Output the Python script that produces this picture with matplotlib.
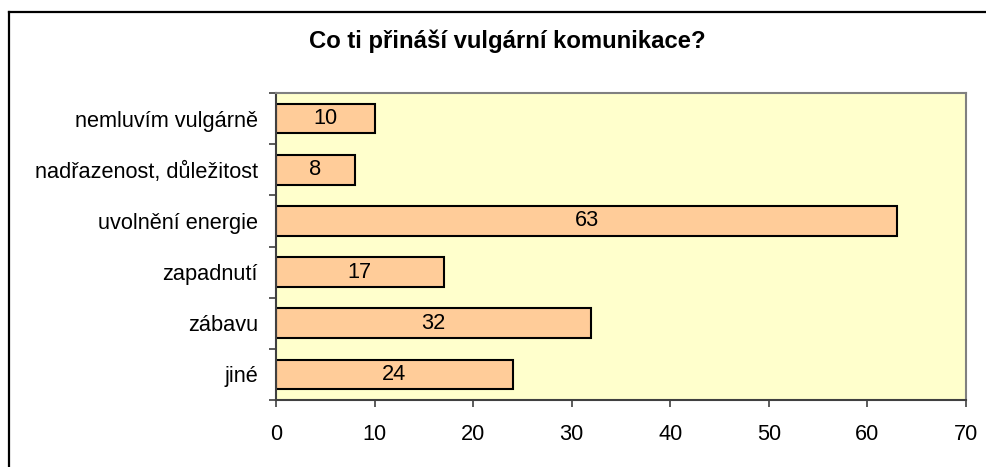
import matplotlib
matplotlib.use("Agg")
import matplotlib.pyplot as plt
from matplotlib.lines import Line2D
import numpy as np

plt.rcParams['font.family'] = ['Liberation Sans', 'DejaVu Sans']

categories = ["jiné", "zábavu", "zapadnutí", "uvolnění energie",
              "nadřazenost, důležitost", "nemluvím vulgárně"]
values = [24, 32, 17, 63, 8, 10]
xticks = [0, 10, 20, 30, 40, 50, 60, 70]
title = "Co ti přináší vulgární komunikace?"

W, H = 986, 467
fig = plt.figure(figsize=(W / 100, H / 100), dpi=100)
fig.patch.set_facecolor("white")

ax = fig.add_axes([276 / W, 67 / H, 690 / W, 307 / H])
ax.set_facecolor("#FFFFCC")

y = np.arange(len(categories))
ax.barh(y, values, height=0.58, color="#FFCC99", edgecolor="black", linewidth=1.5)
for yi, v in zip(y, values):
    ax.text(v / 2, yi, str(v), ha="center", va="center", fontsize=15.7)

ax.set_xlim(0, 70)
ax.set_ylim(-0.5, len(categories) - 0.5)
ax.set_xticks(xticks)
ax.set_xticklabels([str(t) for t in xticks], fontsize=15.7)
ax.set_yticks(y)
ax.set_yticklabels(categories, fontsize=15.7)
ax.tick_params(axis="y", length=0, pad=13)
ax.set_yticks(np.arange(-0.5, len(categories), 1), minor=True)
ax.tick_params(axis="y", which="minor", length=5, width=1.2, color="#404040", direction="out")
ax.tick_params(axis="x", length=5, width=1.2, color="#404040", direction="out", pad=12)

for s in ["left", "bottom"]:
    ax.spines[s].set_color("#404040")
    ax.spines[s].set_linewidth(1.5)
for s in ["top", "right"]:
    ax.spines[s].set_color("#808080")
    ax.spines[s].set_linewidth(1.5)

fig.text(507 / W, (H - 41) / H, title, ha="center", va="center",
         fontsize=17.2, fontweight="bold")

# outer chart frame (partially visible)
fig.add_artist(Line2D([9 / W, 9 / W], [0, (H - 12) / H], color="black", linewidth=1.6,
                      transform=fig.transFigure))
fig.add_artist(Line2D([9 / W, 1], [(H - 12) / H, (H - 12) / H], color="black", linewidth=1.6,
                      transform=fig.transFigure))

fig.savefig("out.png", dpi=100)
